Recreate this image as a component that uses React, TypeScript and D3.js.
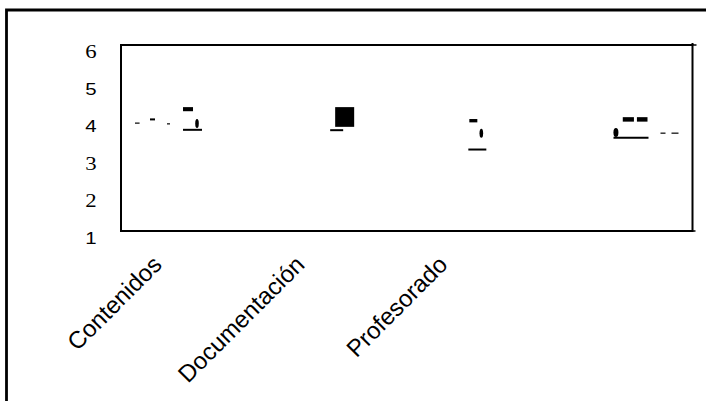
import React from "react";
import * as d3 from "d3";

// Category labels (4th category has no label in the reference)
const categories = ["Contenidos", "Documentación", "Profesorado", ""];
const yTicks = [1, 2, 3, 4, 5, 6];
const yTickSerif = [false, true, true, false, false, true];

// Marks; x positions in category units (0..4), y in data units
// thin dashes: [from, to, value]
const dashes: [number, number, number][] = [
  [0.098, 0.13, 3.9],
  [0.203, 0.238, 4.0],
  [0.322, 0.343, 3.88],
  [3.776, 3.811, 3.63],
  [3.853, 3.902, 3.63],
];
// solid boxes: [from, to, high, low]
const boxes: [number, number, number, number][] = [
  [0.434, 0.504, 4.33, 4.22],
  [1.499, 1.632, 4.33, 3.8],
  [2.438, 2.494, 4.01, 3.92],
  [3.512, 3.59, 4.06, 3.94],
  [3.611, 3.685, 4.06, 3.94],
];
// ellipse markers: [center, value]
const ellipses: [number, number][] = [
  [0.532, 3.89],
  [2.522, 3.63],
  [3.464, 3.65],
];
// horizontal bars: [from, to, value]
const bars: [number, number, number][] = [
  [0.434, 0.567, 3.72],
  [1.464, 1.555, 3.71],
  [2.431, 2.557, 3.19],
  [3.447, 3.692, 3.51],
];

const SERIF = "'Liberation Serif'";
const SANS = "'Liberation Sans'";

export default function App() {
  const W = 706;
  const H = 401;
  const left = 121, right = 692.5, top = 45, bottom = 231;
  const x = d3.scaleLinear().domain([0, 4]).range([left, right]);
  const y = d3.scaleLinear().domain([1, 6]).range([bottom, top]);

  return (
    <svg
      width={W}
      height={H}
      style={{ position: "absolute", left: 0, top: 0, background: "#fff" }}
    >
      <rect x={0} y={0} width={W} height={H} fill="#fff" />
      {/* outer frame */}
      <path d={`M6.5,${H} V10 H${W}`} fill="none" stroke="#000" strokeWidth={2.8} />
      {/* plot frame */}
      <rect
        x={left}
        y={top}
        width={right - left}
        height={bottom - top}
        fill="none"
        stroke="#000"
        strokeWidth={2}
      />
      <line x1={right} x2={right} y1={top - 2} y2={top} stroke="#000" strokeWidth={2} />
      <line x1={right} x2={right + 4} y1={top} y2={top} stroke="#000" strokeWidth={1.5} />
      <line x1={right} x2={right + 3} y1={bottom} y2={bottom} stroke="#000" strokeWidth={1.5} />

      {/* y tick labels */}
      {yTicks.map((t, i) => (
        <text
          key={t}
          transform={`translate(91,${y(t) + 13}) scale(1.2,1)`}
          textAnchor="middle"
          style={{
            fontFamily: yTickSerif[i] ? SERIF : SANS,
            fontSize: yTickSerif[i] ? 19 : 17,
          }}
          fill="#000"
        >
          {t}
        </text>
      ))}

      {/* x category labels */}
      {categories.map((c, i) =>
        c ? (
          <text
            key={c}
            transform={`translate(${x(i + 0.295)},${266}) rotate(-45)`}
            textAnchor="end"
            style={{ fontFamily: SANS, fontSize: 24 }}
            fill="#000"
          >
            {c}
          </text>
        ) : null
      )}

      {/* marks */}
      {dashes.map((d, i) => (
        <line
          key={"d" + i}
          x1={x(d[0])}
          x2={x(d[1])}
          y1={y(d[2])}
          y2={y(d[2])}
          stroke="#000"
          strokeWidth={i === 1 ? 2 : 1.2}
        />
      ))}
      {boxes.map((b, i) => (
        <rect
          key={"b" + i}
          x={x(b[0])}
          y={y(b[2])}
          width={x(b[1]) - x(b[0])}
          height={y(b[3]) - y(b[2])}
          fill="#000"
        />
      ))}
      {ellipses.map((e, i) => (
        <ellipse
          key={"e" + i}
          cx={x(e[0])}
          cy={y(e[1])}
          rx={i === 2 ? 2.5 : 1.8}
          ry={4.5}
          fill="#000"
        />
      ))}
      {bars.map((b, i) => (
        <line
          key={"l" + i}
          x1={x(b[0])}
          x2={x(b[1])}
          y1={y(b[2])}
          y2={y(b[2])}
          stroke="#000"
          strokeWidth={2}
        />
      ))}
    </svg>
  );
}
